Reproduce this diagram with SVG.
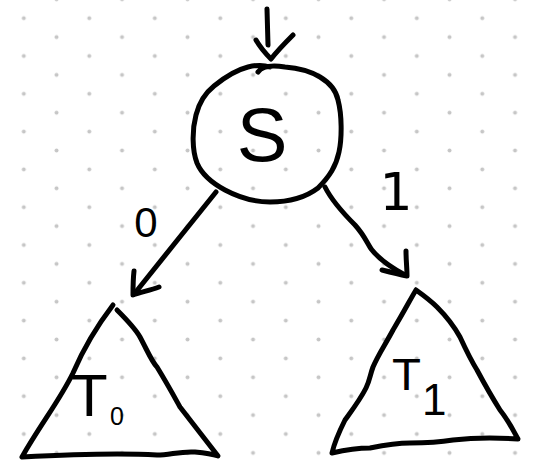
<svg xmlns="http://www.w3.org/2000/svg" width="543" height="463" viewBox="0 0 543 463">
  <style>
    .ink { fill: none; stroke: #000; stroke-width: 5; stroke-linecap: round; stroke-linejoin: round; }
    .lbl { fill: #000; font-family: "Liberation Sans", Arial, sans-serif; }
    .lbl2 { fill: #000; font-family: "DejaVu Sans", sans-serif; }
  </style>
  <defs>
    <pattern id="dots" patternUnits="userSpaceOnUse" x="7.425" y="8.75" width="65.5" height="37.8">
      <circle cx="16.375" cy="9.45" r="2" fill="#c6c6c6"/>
      <circle cx="49.125" cy="28.35" r="2" fill="#c6c6c6"/>
    </pattern>
  </defs>
  <rect width="543" height="463" fill="#fff"/>
  <rect width="543" height="463" fill="url(#dots)"/>

  <g id="connectors">
    <g id="entry-arrow">
      <path class="ink" d="M 267,9 L 268,45"/>
      <path class="ink" d="M 256,40 C 260,47 265,53 271,59 C 278,50 286,42 293,35"/>
    </g>
    <g id="edge-S-T0">
      <path class="ink" d="M 216,192 C 190,224 160,262 135,293"/>
      <path class="ink" d="M 134,271 C 133,280 133,288 133,295 C 142,292 151,290 159,287"/>
      <text class="lbl" x="146" y="237" font-size="42" text-anchor="middle">0</text>
    </g>
    <g id="edge-S-T1">
      <path class="ink" d="M 325,187 C 330,197 340,210 355,225 C 365,236 368,245 372,250 C 380,260 392,268 405,275"/>
      <path class="ink" d="M 406,251 C 406,260 407,268 407,276 C 398,274 390,272 382,270"/>
      <text class="lbl2" x="396" y="210" font-size="52" text-anchor="middle">1</text>
    </g>
  </g>

  <g id="node-S">
    <path class="ink" d="M 258,72 C 262,66 272,65 285,67 C 298,68 310,71 320,77 C 330,83 336,90 338,100 C 342,115 342,138 339,152 C 336,166 330,176 318,188 C 305,198 290,202 270,202 C 255,202 240,198 225,190 C 212,183 202,175 197,163 C 192,150 192,130 196,115 C 199,103 204,94 214,86 C 225,77 236,70 248,67 C 256,65 264,65 270,67"/>
    <text class="lbl" x="262" y="161" font-size="76" text-anchor="middle">S</text>
  </g>

  <g id="node-T0">
    <path class="ink" d="M 113,305 C 100,322 85,345 73,373 C 60,400 40,425 22,457 C 60,455 120,453 157,455 C 170,455 180,451 195,452 C 205,453 212,454 218,456 C 200,433 190,420 180,407 C 175,398 168,385 157,367 C 152,362 148,352 140,337 C 135,328 125,318 117,310"/>
    <text class="lbl" font-size="60"><tspan x="71" y="416">T</tspan><tspan x="110" y="425" font-size="25">0</tspan></text>
  </g>

  <g id="node-T1">
    <path class="ink" d="M 416,290 C 411,298 405,310 393,330 C 385,345 378,355 373,367 C 370,375 370,380 366,388 C 360,400 350,413 345,420 C 340,430 335,440 332,453 C 345,450 360,448 370,448 C 385,445 395,443 410,443 C 425,443 435,443 453,440 C 470,438 490,437 518,439 C 512,428 508,420 500,410 C 495,402 485,385 477,370 C 472,362 466,350 460,337 C 455,328 447,317 437,307 C 430,300 423,295 416,290"/>
    <text class="lbl" font-size="45"><tspan x="392" y="390" textLength="29" lengthAdjust="spacingAndGlyphs">T</tspan><tspan x="422" y="415" font-size="44">1</tspan></text>
  </g>
</svg>
